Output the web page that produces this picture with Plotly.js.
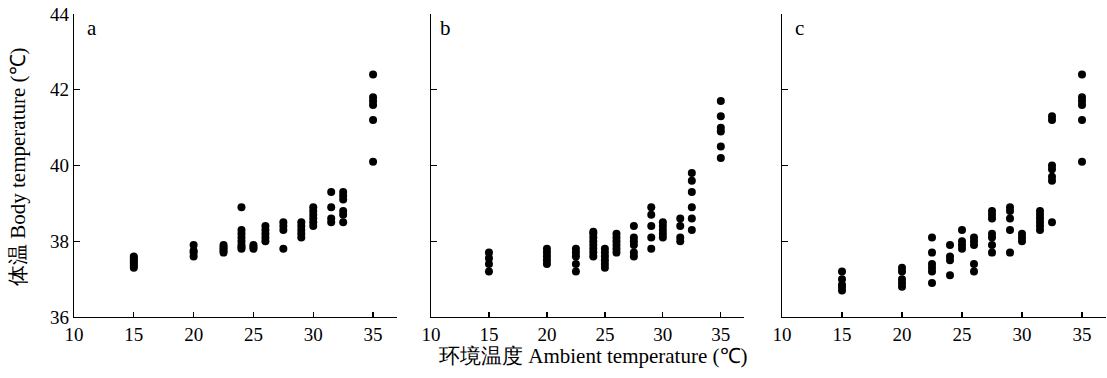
<!DOCTYPE html>
<html>
<head>
<meta charset="utf-8">
<script src="https://cdn.plot.ly/plotly-3.0.1.min.js"></script>
<style>
html,body{margin:0;padding:0;background:#fff;}
#chart{width:1107px;height:378px;}
</style>
</head>
<body>
<div id="chart"></div>
<script>
// Panel a
const xA = [15,15,15,15,15,15,15, 20,20,20,20, 22.5,22.5,22.5,22.5,22.5, 24,24,24,24,24,24,24,24, 25,25,25, 26,26,26,26,26, 27.5,27.5,27.5,27.5, 29,29,29,29,29, 30,30,30,30,30,30, 31.5,31.5,31.5,31.5, 32.5,32.5,32.5,32.5,32.5,32.5, 35,35,35,35,35,35];
const yA = [37.3,37.35,37.4,37.45,37.5,37.55,37.6, 37.6,37.7,37.75,37.9, 37.7,37.75,37.8,37.85,37.9, 37.8,37.85,37.9,38.0,38.1,38.2,38.3,38.9, 37.8,37.85,37.9, 38.0,38.1,38.2,38.3,38.4, 37.8,38.3,38.4,38.5, 38.1,38.2,38.3,38.4,38.5, 38.4,38.5,38.6,38.7,38.8,38.9, 38.5,38.6,38.9,39.3, 38.5,38.7,38.8,39.1,39.2,39.3, 40.1,41.2,41.6,41.7,41.8,42.4];
// Panel b
const xB = [15,15,15,15, 20,20,20,20,20, 22.5,22.5,22.5,22.5,22.5, 24,24,24,24,24,24,24,24, 25,25,25,25,25,25, 26,26,26,26,26,26, 27.5,27.5,27.5,27.5,27.5,27.5, 29,29,29,29,29, 30,30,30,30,30, 31.5,31.5,31.5,31.5, 32.5,32.5,32.5,32.5,32.5,32.5, 35,35,35,35,35,35];
const yB = [37.2,37.4,37.55,37.7, 37.4,37.5,37.6,37.7,37.8, 37.2,37.4,37.6,37.7,37.8, 37.6,37.7,37.8,37.9,38.0,38.1,38.2,38.25, 37.3,37.4,37.5,37.6,37.7,37.8, 37.7,37.8,37.9,38.0,38.1,38.2, 37.6,37.7,37.9,38.0,38.1,38.4, 37.8,38.1,38.4,38.7,38.9, 38.1,38.2,38.3,38.4,38.5, 38.0,38.1,38.4,38.6, 38.3,38.6,38.9,39.3,39.6,39.8, 40.2,40.5,40.9,41.0,41.3,41.7];
// Panel c
const xC = [15,15,15,15,15, 20,20,20,20,20, 22.5,22.5,22.5,22.5,22.5,22.5, 24,24,24,24, 25,25,25,25, 26,26,26,26,26, 27.5,27.5,27.5,27.5,27.5,27.5,27.5, 29,29,29,29,29, 30,30,30, 31.5,31.5,31.5,31.5,31.5,31.5, 32.5,32.5,32.5,32.5,32.5,32.5,32.5, 35,35,35,35,35,35];
const yC = [36.7,36.8,36.85,37.0,37.2, 36.8,36.9,37.0,37.2,37.3, 36.9,37.2,37.3,37.4,37.7,38.1, 37.1,37.5,37.6,37.9, 37.8,37.9,38.0,38.3, 37.2,37.4,37.9,38.0,38.1, 37.7,37.9,38.1,38.2,38.6,38.7,38.8, 37.7,38.3,38.6,38.8,38.9, 38.0,38.1,38.2, 38.3,38.4,38.5,38.6,38.7,38.8, 38.5,39.6,39.7,39.9,40.0,41.2,41.3, 40.1,41.2,41.6,41.7,41.8,42.4];

const xTicks = [10,15,20,25,30,35];
const yTicks = [36,38,40,42,44];
const panelLabels = ['a','b','c'];
const yTitle = '体温 Body temperature (℃)';
const xTitle = '环境温度 Ambient temperature (℃)';

const FONT = 'Liberation Serif';
const W = 1107, H = 378;
const marker = {color:'#000', size:8, symbol:'circle'};

const traces = [
  {x:xA, y:yA, xaxis:'x', yaxis:'y', type:'scatter', mode:'markers', marker:marker},
  {x:xB, y:yB, xaxis:'x2', yaxis:'y2', type:'scatter', mode:'markers', marker:marker},
  {x:xC, y:yC, xaxis:'x3', yaxis:'y3', type:'scatter', mode:'markers', marker:marker}
];

function xax(d0, d1, anchor){
  return {domain:[d0/W, d1/W], range:[10,37], anchor:anchor, tickvals:xTicks,
    ticks:'inside', ticklen:5, tickwidth:1.3, tickcolor:'#000', showline:true, linecolor:'#000', linewidth:1.3,
    showgrid:false, zeroline:false, tickfont:{family:FONT, size:19, color:'#000'}};
}
function yax(anchor, showLabels){
  return {domain:[(H-317)/H, (H-14)/H], range:[36,44], anchor:anchor, tickvals:yTicks,
    showticklabels:showLabels, ticks:'inside', ticklen:6, tickwidth:1.3, tickcolor:'#000', showline:true, linecolor:'#000', linewidth:1.3,
    showgrid:false, zeroline:false, tickfont:{family:FONT, size:19, color:'#000'}};
}

const annFont = {family:FONT, size:21, color:'#000'};
function ann(text, px, py, extra){
  return Object.assign({text:text, xref:'paper', yref:'paper', x:px/W, y:(H-py)/H,
    xanchor:'center', yanchor:'middle', showarrow:false, font:annFont}, extra || {});
}

const layout = {
  width:W, height:H, margin:{l:0,r:0,t:0,b:0}, paper_bgcolor:'#fff', plot_bgcolor:'rgba(0,0,0,0)',
  showlegend:false,
  xaxis: xax(74, 397, 'y'),
  xaxis2: xax(431, 744, 'y2'),
  xaxis3: xax(782, 1106, 'y3'),
  yaxis: yax('x', true),
  yaxis2: yax('x2', false),
  yaxis3: yax('x3', false),
  annotations: [
    ann(panelLabels[0], 92, 28),
    ann(panelLabels[1], 445, 28),
    ann(panelLabels[2], 799, 28),
    ann(xTitle, 593, 356),
    ann(yTitle, 18, 167, {textangle:-90})
  ]
};

Plotly.newPlot('chart', traces, layout, {staticPlot:true, displayModeBar:false});
</script>
</body>
</html>
